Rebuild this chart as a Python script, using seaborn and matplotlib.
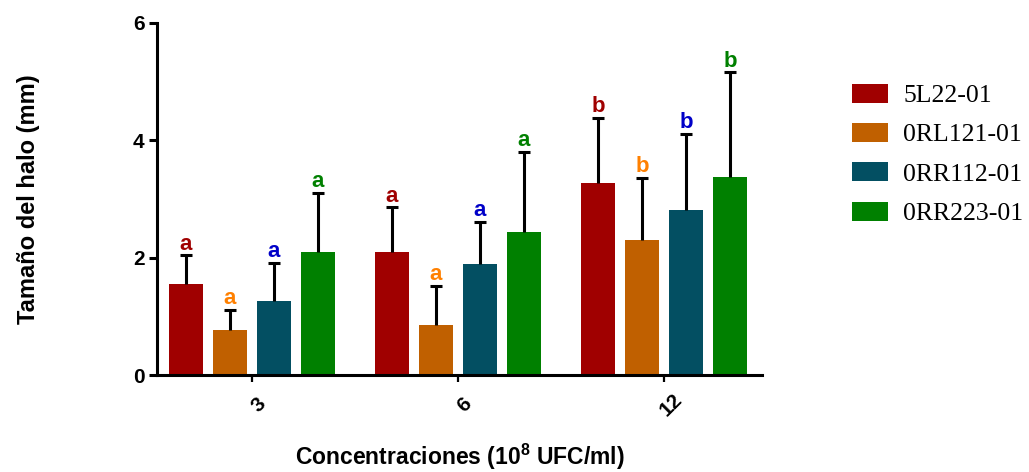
import pandas as pd
import matplotlib
matplotlib.use("Agg")
import matplotlib.pyplot as plt
import seaborn as sns

# Data
concentrations = ["3", "6", "12"]
strains = ["5L22-01", "0RL121-01", "0RR112-01", "0RR223-01"]

mean_5l22 = [1.55, 2.10, 3.27]
mean_0rl121 = [0.76, 0.85, 2.30]
mean_0rr112 = [1.26, 1.89, 2.81]
mean_0rr223 = [2.10, 2.44, 3.37]

sd_5l22 = [0.49, 0.76, 1.11]
sd_0rl121 = [0.35, 0.67, 1.06]
sd_0rr112 = [0.65, 0.72, 1.30]
sd_0rr223 = [1.00, 1.36, 1.79]

letters_5l22 = ["a", "a", "b"]
letters_0rl121 = ["a", "a", "b"]
letters_0rr112 = ["a", "a", "b"]
letters_0rr223 = ["a", "a", "b"]

bar_colors = ["#a00000", "#c06000", "#034f62", "#008000"]
letter_colors = ["#a00000", "#ff8000", "#0000c8", "#008000"]

sns.set_style("ticks")
plt.rcParams["font.family"] = ["Liberation Sans", "DejaVu Sans"]
plt.rcParams["mathtext.fontset"] = "custom"
plt.rcParams["mathtext.rm"] = "Liberation Sans"
plt.rcParams["mathtext.bf"] = "Liberation Sans:bold"
plt.rcParams["text.color"] = "black"
plt.rcParams["axes.labelcolor"] = "black"
plt.rcParams["xtick.color"] = "black"
plt.rcParams["ytick.color"] = "black"
plt.rcParams["axes.edgecolor"] = "black"


def main():
    means = [mean_5l22, mean_0rl121, mean_0rr112, mean_0rr223]
    sds = [sd_5l22, sd_0rl121, sd_0rr112, sd_0rr223]
    letters = [letters_5l22, letters_0rl121, letters_0rr112, letters_0rr223]

    rows = []
    for s, m in zip(strains, means):
        for c, v in zip(concentrations, m):
            rows.append({"conc": c, "strain": s, "halo": v})
    df = pd.DataFrame(rows)

    fig = plt.figure(figsize=(10.29, 4.72), dpi=100)
    ax = fig.add_axes([0.1526, 0.2055, 0.588, 0.7458])

    sns.barplot(
        data=df, x="conc", y="halo", hue="strain",
        order=concentrations, hue_order=strains,
        palette=bar_colors, errorbar=None,
        width=0.855, gap=0.23, saturation=1,
        linewidth=0, ax=ax,
    )

    # Upper error bars only, plus significance letters
    for cont, sd, let, lc in zip(ax.containers, sds, letters, letter_colors):
        for bar, e, l in zip(cont, sd, let):
            x = bar.get_x() + bar.get_width() / 2
            h = bar.get_height()
            eb = ax.errorbar(x, h, yerr=[[0], [e]], fmt="none", ecolor="black",
                             elinewidth=2.2, capsize=4.6, capthick=2.2, zorder=3)
            eb[1][0].set_visible(False)  # drop the lower cap
            ax.annotate(l, (x, h + e), xytext=(0, 0.5), textcoords="offset points",
                        ha="center", va="bottom", fontsize=16, fontweight="bold",
                        color=lc)

    ax.set_ylim(0, 6)
    ax.set_yticks([0, 2, 4, 6])
    ax.set_xlim(-0.461, 0.476 + 2)

    sns.despine(ax=ax)
    for sp in ["left", "bottom"]:
        ax.spines[sp].set_linewidth(2.2)
    ax.tick_params(axis="y", length=6, width=2.2, labelsize=15, pad=3)
    ax.tick_params(axis="x", length=5, width=1.6, labelsize=15, pad=12)
    for t in ax.get_yticklabels():
        t.set_fontweight("bold")
    for t in ax.get_xticklabels():
        t.set_fontweight("bold")
        t.set_rotation(45)
        t.set_ha("center")
        t.set_rotation_mode("anchor")

    ax.set_ylabel("Tamaño del halo (mm)", fontsize=17, fontweight="bold", labelpad=67)
    ax.set_xlabel(r"Concentraciones (10$^{\mathbf{8}}$ UFC/ml)",
                  fontsize=16.5, fontweight="bold", labelpad=15.5)

    ax.legend(
        loc="upper left", bbox_to_anchor=(1.11, 0.893), frameon=False,
        prop={"family": "Liberation Serif", "size": 18.5},
        handlelength=1.4, handleheight=0.75, labelspacing=0.62,
        handletextpad=0.6, title=None,
    )

    fig.savefig("out.png", dpi=100)


if __name__ == "__main__":
    main()
